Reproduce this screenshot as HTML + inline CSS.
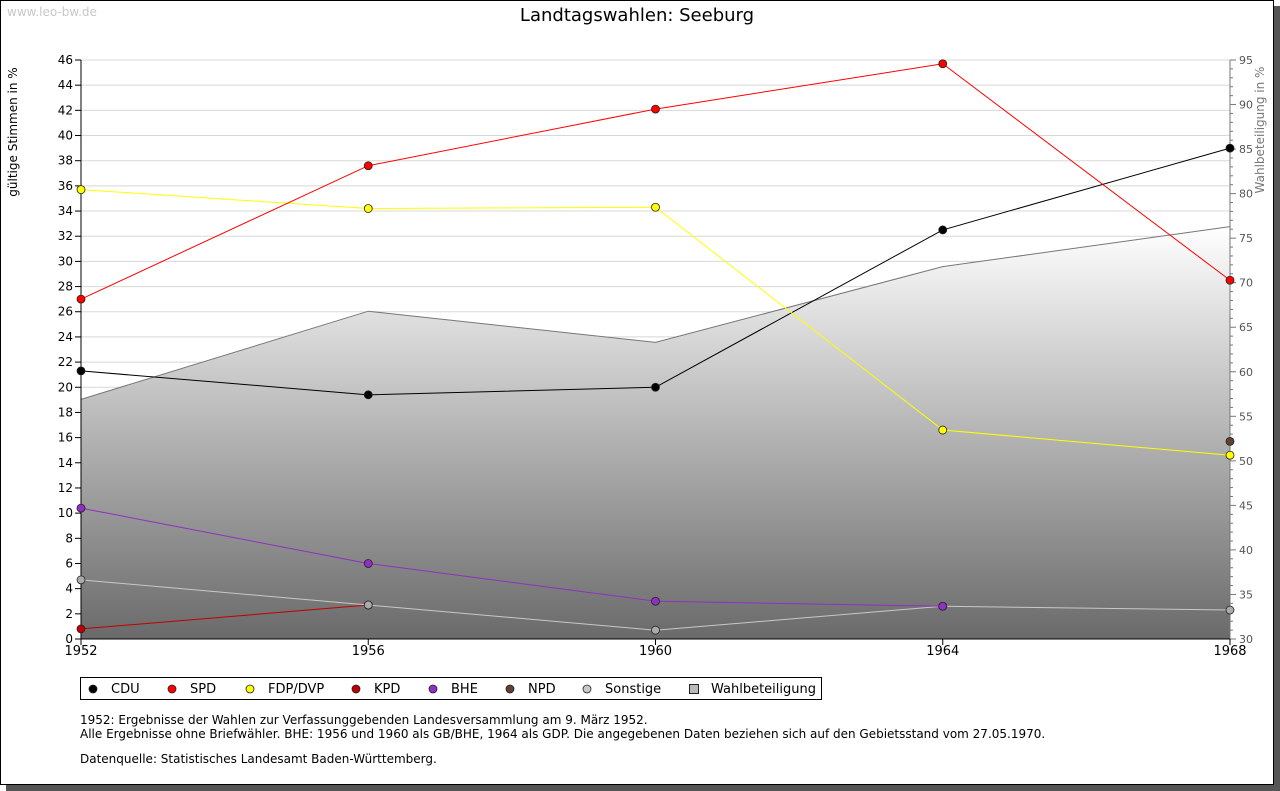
<!DOCTYPE html>
<html><head><meta charset="utf-8"><style>
body{margin:0;background:#fff;font-family:"DejaVu Sans","Liberation Sans",sans-serif;}
#wrap{position:relative;width:1280px;height:791px;overflow:hidden;}
</style></head><body>
<div id="wrap">
<svg id="chart" width="1280" height="791" xmlns="http://www.w3.org/2000/svg" font-family="DejaVu Sans, Liberation Sans, sans-serif">
<defs>
<linearGradient id="turn" x1="0" y1="0" x2="0" y2="1"><stop offset="0" stop-color="#ffffff"/><stop offset="1" stop-color="#6a6a6a"/></linearGradient>
</defs>
<rect x="6" y="6" width="1274" height="785" fill="#555"/>
<rect x="0.5" y="0.5" width="1273" height="784" fill="#fff" stroke="#000"/>
<text x="7" y="16" font-size="12" fill="#c8c8c8">www.leo-bw.de</text>
<text x="637" y="21" font-size="18" text-anchor="middle" fill="#000">Landtagswahlen: Seeburg</text>
<text transform="translate(17,132) rotate(-90)" font-size="12" text-anchor="middle">gültige Stimmen in %</text>
<text transform="translate(1264,130) rotate(-90)" font-size="12" text-anchor="middle" fill="#777">Wahlbeteiligung in %</text>
<g id="grid"></g><g id="area"></g><g id="axes"></g><g id="series"></g><g id="legend"></g>
<text x="80" y="724" font-size="12">1952: Ergebnisse der Wahlen zur Verfassunggebenden Landesversammlung am 9. März 1952.</text>
<text x="80" y="738" font-size="12">Alle Ergebnisse ohne Briefwähler. BHE: 1956 und 1960 als GB/BHE, 1964 als GDP. Die angegebenen Daten beziehen sich auf den Gebietsstand vom 27.05.1970.</text>
<text x="80" y="763" font-size="12">Datenquelle: Statistisches Landesamt Baden-Württemberg.</text>
</svg>
</div>
<script>
const years=[1952,1956,1960,1964,1968];
const leftTicks=[0,2,4,6,8,10,12,14,16,18,20,22,24,26,28,30,32,34,36,38,40,42,44,46];
const rightTicks=[30,35,40,45,50,55,60,65,70,75,80,85,90,95];
const cdu=[21.3,19.4,20.0,32.5,39.0];
const spd=[27.0,37.6,42.1,45.7,28.5];
const fdp=[35.7,34.2,34.3,16.6,14.6];
const kpd=[0.8,2.7,null,null,null];
const bhe=[10.4,6.0,3.0,2.6,null];
const npd=[null,null,null,null,15.7];
const sonstige=[4.7,2.7,0.7,2.6,2.3];
const turnout=[56.9,66.8,63.3,71.8,76.3];
const NS="http://www.w3.org/2000/svg";
const X0=81,X1=1230,YT=60,YB=639;
const xs=y=>X0+(y-1952)/(1968-1952)*(X1-X0);
const yl=v=>YB-v/46*(YB-YT);
const yr=v=>YB-(v-30)/65*(YB-YT);
function mk(tag,attrs,parent){const e=document.createElementNS(NS,tag);for(const k in attrs)e.setAttribute(k,attrs[k]);parent.appendChild(e);return e;}
const grid=document.getElementById('grid'),axes=document.getElementById('axes'),area=document.getElementById('area'),series=document.getElementById('series'),legend=document.getElementById('legend');
leftTicks.forEach(t=>{
 if(t>0){const g=mk('line',{x1:X0,x2:X1,y1:yl(t),y2:yl(t),stroke:'#d8d8d8'},grid);
 
 }
 mk('line',{x1:X0-6,x2:X0,y1:yl(t),y2:yl(t),stroke:'#000'},axes);
 const tx=mk('text',{x:X0-8,y:yl(t)+4,'font-size':12,'text-anchor':'end'},axes);tx.textContent=t;
 
 
});
for(let v=30;v<=95;v++){mk('line',{x1:X1,x2:X1+(v%5?3:6),y1:yr(v),y2:yr(v),stroke:'#777'},axes);}
rightTicks.forEach(t=>{const tx=mk('text',{x:X1+9,y:yr(t)+4,'font-size':11,fill:'#555'},axes);tx.textContent=t;
 
 });
// turnout area
let d='M'+X0+','+YB;years.forEach((y,i)=>d+=' L'+xs(y)+','+yr(turnout[i]));d+=' L'+X1+','+YB+' Z';
const ar=mk('path',{d:d,fill:'url(#turn)',stroke:'none'},area);


const al=mk('polyline',{points:years.map((y,i)=>xs(y)+','+yr(turnout[i])).join(' '),fill:'none',stroke:'#777'},area);


mk('line',{x1:X0,x2:X0,y1:YT,y2:YB,stroke:'#000'},axes);
mk('line',{x1:X1,x2:X1,y1:YT,y2:YB,stroke:'#777'},axes);
mk('line',{x1:X0,x2:X1,y1:YB,y2:YB,stroke:'#000'},axes);
years.forEach(y=>{mk('line',{x1:xs(y),x2:xs(y),y1:YB,y2:YB+6,stroke:'#000'},axes);
 const tx=mk('text',{x:xs(y),y:YB+16,'font-size':13,'text-anchor':'middle'},axes);tx.textContent=y;
 
 });
const defs=[['cdu',cdu,'#000','#000'],['kpd',kpd,'#c00000','#c00000'],['sonstige',sonstige,'#c8c8c8','#aaa'],['bhe',bhe,'#9030c0','#9030c0'],['fdp',fdp,'#ffff00','#ffff00'],['spd',spd,'#ff0000','#ff0000'],['npd',npd,'#604030','#604030']];
defs.forEach(([n,vals,lc,fc])=>{
 const pts=[];vals.forEach((v,i)=>{if(v!==null)pts.push([xs(years[i]),yl(v)]);});
 if(pts.length>1){const l=mk('polyline',{points:pts.map(p=>p.join(',')).join(' '),fill:'none',stroke:lc,'stroke-width':1},series);
 
 }
 pts.forEach(p=>{const c=mk('circle',{cx:p[0],cy:p[1],r:4,fill:fc,stroke:'#222','stroke-width':0.8},series);
 
 });
});
// legend
const lb=mk('rect',{x:80.5,y:677.5,width:741,height:22,fill:'#fff',stroke:'#000'},legend);


const leg=[['CDU','#000',92],['SPD','#ff0000',171],['FDP/DVP','#ffff00',249],['KPD','#c00000',355],['BHE','#9030c0',432],['NPD','#604030',509],['Sonstige','#c8c8c8',586]];
leg.forEach(([t,c,x])=>{const m=mk('circle',{cx:x+1,cy:689,r:4,fill:c,stroke:'#222','stroke-width':0.8},legend);
 
 
 const tx=mk('text',{x:x+19,y:693,'font-size':13},legend);tx.textContent=t;
 
 });
const sq=mk('rect',{x:689.5,y:684.5,width:9,height:9,fill:'#bbb',stroke:'#222'},legend);


const wt=mk('text',{x:711,y:693,'font-size':13},legend);wt.textContent='Wahlbeteiligung';


</script>
</body></html>
